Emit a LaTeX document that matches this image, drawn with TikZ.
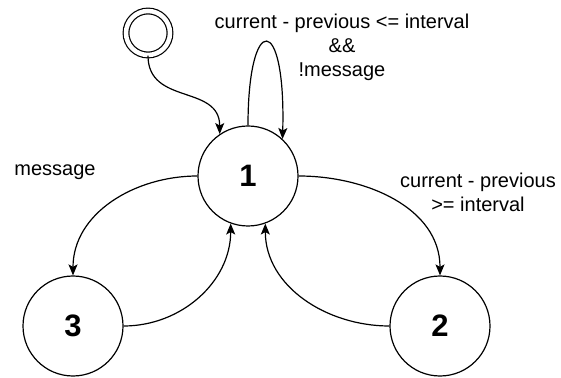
\documentclass[tikz,border=0pt]{standalone}
\usepackage{fontspec}
\setmainfont{Liberation Sans}
\usetikzlibrary{arrows.meta}

\begin{document}
\begin{tikzpicture}[
        x=1pt, y=1pt,
        state/.style={circle, draw, line width=1.2pt, minimum size=100pt, inner sep=0pt,
                font=\fontsize{31}{31}\selectfont\bfseries},
        trans/.style={line width=1.2pt, -{Stealth[length=11pt, width=9pt, inset=2.5pt]}},
        lbl/.style={font=\fontsize{20}{24}\selectfont, align=center, inner sep=0pt}
    ]
    \useasboundingbox (0,0) rectangle (561,377);

    % States
    \node[state] (one) at (248,201) {1};
    \node[state] (two) at (440,51) {2};
    \node[state] (three) at (73,51) {3};
    \node[circle, draw, line width=1.2pt, double, double distance=4.5pt, minimum size=44pt] (init) at (148,344) {};

    % Start
    \draw[trans] (init.south) to[out=-90, in=90, looseness=1.2] (one.124);

    % Self loop
    \draw[trans] (one.90) .. controls (248,365) and (286,365) .. (one.47);
    \node[lbl] (stay) at (342,330) {current - previous <= interval\\\&\&\\!message};

    % Left side
    \draw[trans] (one.west) to[out=180, in=90] (three.north);
    \node[lbl] (msg) at (55,205) {message};
    \draw[trans] (three.east) to[out=0, in=-90] (one.-110);

    % Right side
    \draw[trans] (one.east) to[out=0, in=90] (two.north);
    \node[lbl] (timeout) at (478,185) {current - previous\\>= interval};
    \draw[trans] (two.west) to[out=180, in=-90] (one.-70);
\end{tikzpicture}
\end{document}
